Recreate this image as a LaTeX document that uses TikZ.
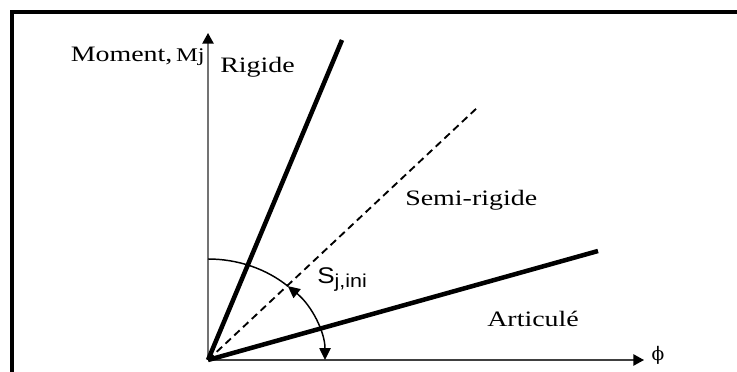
\documentclass[tikz,border=0pt]{standalone}
\usepackage{fontspec}
\setmainfont[FakeStretch=1.27]{Liberation Serif}
\newfontfamily\stiffsans[FakeStretch=1.15]{Liberation Sans}
\newfontfamily\phifont{DejaVu Serif}
\usetikzlibrary{arrows.meta}

\tikzset{
  axis/.style={line width=1.1pt, draw=black!55,
    -{Triangle[length=8pt,width=8.5pt,color=black]}},
  curve/.style={line width=3.4pt},
  semicurve/.style={line width=1.4pt, dash pattern=on 5.5pt off 3.5pt},
  stiffarc/.style={line width=1.1pt},
  lbl/.style={inner sep=0pt, font=\fontsize{16.5}{18}\selectfont}
}

\begin{document}
\begin{tikzpicture}[x=0.75pt, y=0.75pt]
    \useasboundingbox (0,0) rectangle (737,371);
    \clip (0,0) rectangle (737,371);
    \fill[white] (0,0) rectangle (737,371);
    \draw[line width=3pt] (12,359) rectangle (780,-40);

    % origin and curve ends
    \coordinate (O) at (208,11);
    \coordinate (ytip) at (208,338);
    \coordinate (xtip) at (644,11);
    \coordinate (rigid) at (342,331);
    \coordinate (semi) at (478,264);
    \coordinate (pinned) at (598,120);

    \draw[axis] (O) -- (ytip);
    \draw[axis, draw=black!75] (O) -- (xtip);

    \draw[semicurve] (O) -- (semi);
    \draw[curve] (O) -- (rigid);
    \draw[curve] (O) -- (pinned);

    % initial stiffness arc
    \draw[stiffarc] (O) ++(90:117 and 101)
      arc[start angle=90, end angle=47, x radius=117, y radius=101];
    \draw[stiffarc, {Triangle[length=9pt,width=8.5pt]}-{Triangle[length=9pt,width=8.5pt]}]
      (O) ++(0:117 and 101)
      arc[start angle=0, end angle=47, x radius=117, y radius=101];

    \node[lbl, anchor=base east] (moment) at (205,309)
      {Moment,\,{\fontsize{14.5}{15}\selectfont Mj}};
    \node[lbl, anchor=base west] (rigide) at (220,298) {Rigide};
    \node[lbl, anchor=base west] (semirigide) at (405,165) {Semi-rigide};
    \node[lbl, anchor=base west] (articule) at (487,45) {Articulé};
    \node[lbl, anchor=base west] (sjini) at (317,88)
      {\stiffsans\fontsize{17}{18}\selectfont S\raisebox{-0.4ex}{\fontsize{14}{14}\selectfont j,ini}};
    \node[lbl] (phi) at (658,16) {\phifont\fontsize{14}{15}\selectfont ϕ};
  \end{tikzpicture}
\end{document}
